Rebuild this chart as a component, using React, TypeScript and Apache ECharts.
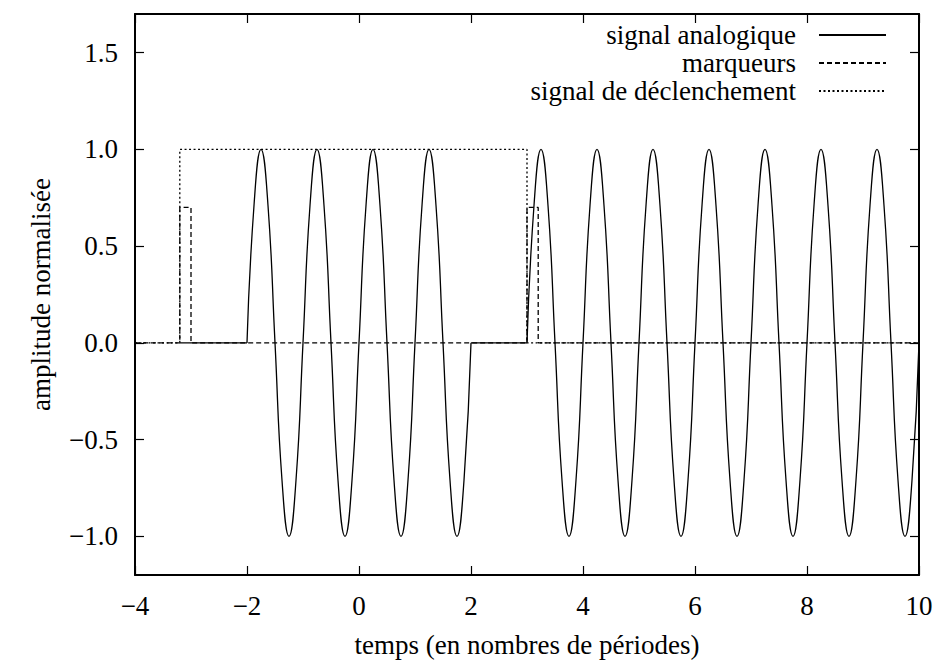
import React, { useEffect, useRef } from "react";
import * as echarts from "echarts";

const FONT = "Liberation Serif";
const FS = 27;

const seriesNames = ["signal analogique", "marqueurs", "signal de déclenchement"];
const xTicks = [-4, -2, 0, 2, 4, 6, 8, 10];
const yTicks = [-1, -0.5, 0, 0.5, 1, 1.5];

// analog signal: idle parts
const analogIdle1 = [[-3.2, 0], [-2, 0]];
const analogIdle2 = [[2, 0], [3, 0]];
// analog signal: first burst (-2 .. 2)
const analogBurst1 = [
  [-2, 0], [-1.875, 0.71], [-1.75, 1], [-1.625, 0.71], [-1.5, 0], [-1.375, -0.71], [-1.25, -1], [-1.125, -0.71],
  [-1, 0], [-0.875, 0.71], [-0.75, 1], [-0.625, 0.71], [-0.5, 0], [-0.375, -0.71], [-0.25, -1], [-0.125, -0.71],
  [0, 0], [0.125, 0.71], [0.25, 1], [0.375, 0.71], [0.5, 0], [0.625, -0.71], [0.75, -1], [0.875, -0.71],
  [1, 0], [1.125, 0.71], [1.25, 1], [1.375, 0.71], [1.5, 0], [1.625, -0.71], [1.75, -1], [1.875, -0.71],
  [2, 0],
];
// analog signal: second burst (3 .. 10)
const analogBurst2 = [
  [3, 0], [3.125, 0.71], [3.25, 1], [3.375, 0.71], [3.5, 0], [3.625, -0.71], [3.75, -1], [3.875, -0.71],
  [4, 0], [4.125, 0.71], [4.25, 1], [4.375, 0.71], [4.5, 0], [4.625, -0.71], [4.75, -1], [4.875, -0.71],
  [5, 0], [5.125, 0.71], [5.25, 1], [5.375, 0.71], [5.5, 0], [5.625, -0.71], [5.75, -1], [5.875, -0.71],
  [6, 0], [6.125, 0.71], [6.25, 1], [6.375, 0.71], [6.5, 0], [6.625, -0.71], [6.75, -1], [6.875, -0.71],
  [7, 0], [7.125, 0.71], [7.25, 1], [7.375, 0.71], [7.5, 0], [7.625, -0.71], [7.75, -1], [7.875, -0.71],
  [8, 0], [8.125, 0.71], [8.25, 1], [8.375, 0.71], [8.5, 0], [8.625, -0.71], [8.75, -1], [8.875, -0.71],
  [9, 0], [9.125, 0.71], [9.25, 1], [9.375, 0.71], [9.5, 0], [9.625, -0.71], [9.75, -1], [9.875, -0.71],
  [10, 0],
];
const markers = [
  [-4, 0], [-3.2, 0], [-3.2, 0.7], [-3, 0.7], [-3, 0],
  [3, 0], [3, 0.7], [3.2, 0.7], [3.2, 0], [10, 0],
];
const trigger = [[-4, 0], [-3.2, 0], [-3.2, 1], [3, 1], [3, 0], [10, 0]];

const fmt = (v: number, d: number) => v.toFixed(d).replace("-", "\u2212");

export default function App() {
  const ref = useRef<HTMLDivElement>(null);
  useEffect(() => {
    if (!ref.current) return;
    const chart = echarts.init(ref.current, undefined, { renderer: "svg" });
    const black = "#000";
    const lw = 1.3;
    const analogStyle = { color: black, width: lw, type: "solid" };
    const baseX = {
      type: "value",
      min: -4,
      max: 10,
      interval: 2,
      splitLine: { show: false },
      axisLine: { show: true, onZero: false, lineStyle: { color: black, width: 2 } },
      axisTick: { show: true, inside: true, length: 9, lineStyle: { color: black, width: 1.2 } },
    };
    const baseY = {
      type: "value",
      min: -1.2,
      max: 1.7,
      splitLine: { show: false },
      axisLine: { show: true, onZero: false, lineStyle: { color: black, width: 2 } },
      axisTick: { show: true, inside: true, length: 9, customValues: yTicks, lineStyle: { color: black, width: 1.2 } },
    };
    chart.setOption({
      animation: false,
      backgroundColor: "#fff",
      textStyle: { fontFamily: FONT },
      grid: { left: 135, right: 17, top: 14, bottom: 86 },
      xAxis: [
        {
          ...baseX,
          position: "bottom",
          axisLabel: {
            color: black, fontFamily: FONT, fontSize: FS, lineHeight: FS, margin: 17,
            customValues: xTicks,
            formatter: (v: number) => fmt(v, 0),
          },
          name: "temps (en nombres de périodes)",
          nameLocation: "middle",
          nameGap: 56,
          nameTextStyle: { color: black, fontFamily: FONT, fontSize: FS, lineHeight: FS },
        },
        { ...baseX, position: "top", axisLabel: { show: false } },
      ],
      yAxis: [
        {
          ...baseY,
          position: "left",
          axisLabel: {
            color: black, fontFamily: FONT, fontSize: FS, margin: 17,
            customValues: yTicks,
            formatter: (v: number) => fmt(v, 1),
          },
          name: "amplitude normalisée",
          nameLocation: "middle",
          nameGap: 81,
          nameRotate: 90,
          nameTextStyle: { color: black, fontFamily: FONT, fontSize: FS, lineHeight: FS },
        },
        { ...baseY, position: "right", axisLabel: { show: false } },
      ],
      legend: {
        data: seriesNames,
        orient: "vertical",
        align: "right",
        right: 49,
        top: 21,
        padding: 0,
        itemWidth: 67,
        itemHeight: 14,
        itemGap: 0,
        selectedMode: false,
        itemStyle: { opacity: 0 },
        textStyle: { color: black, fontFamily: FONT, fontSize: FS, lineHeight: 28, padding: [0, 18, 0, 0] },
      },
      series: [
        { name: seriesNames[0], type: "line", data: analogIdle1, symbol: "none", lineStyle: analogStyle, color: black },
        { name: seriesNames[0], type: "line", data: analogBurst1, symbol: "none", smooth: true, lineStyle: analogStyle, color: black },
        { name: seriesNames[0], type: "line", data: analogIdle2, symbol: "none", lineStyle: analogStyle, color: black },
        { name: seriesNames[0], type: "line", data: analogBurst2, symbol: "none", smooth: true, lineStyle: analogStyle, color: black },
        { name: seriesNames[1], type: "line", data: markers, symbol: "none", color: black, lineStyle: { color: black, width: lw, type: [5, 3] } },
        { name: seriesNames[2], type: "line", data: trigger, symbol: "none", color: black, lineStyle: { color: black, width: lw, type: [2, 2.5] } },
      ],
    });
    return () => chart.dispose();
  }, []);
  return <div ref={ref} style={{ position: "fixed", left: 0, top: 0, width: 936, height: 663, background: "#fff" }} />;
}
